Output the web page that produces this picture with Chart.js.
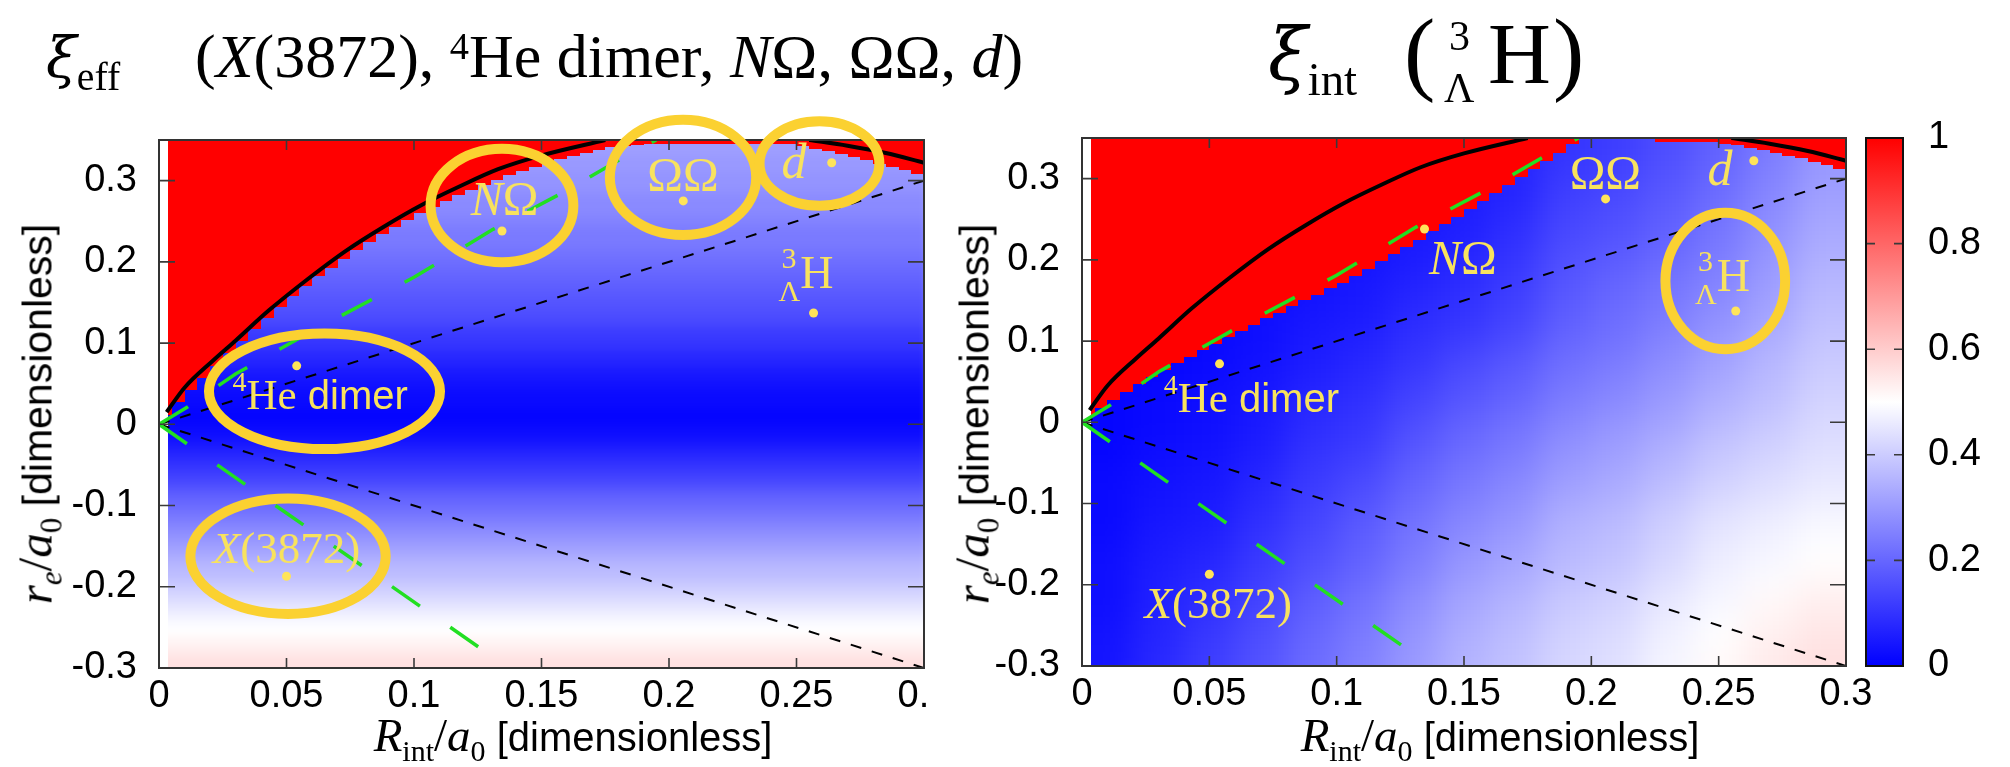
<!DOCTYPE html>
<html><head><meta charset="utf-8">
<script src="https://cdn.jsdelivr.net/npm/chart.js@4.4.0/dist/chart.umd.min.js"></script>
<style>
html,body{margin:0;padding:0;background:#fff;}
#wrap{position:relative;width:2010px;height:767px;overflow:hidden;background:#fff;}
canvas{position:absolute;top:0;}
.t{position:absolute;white-space:nowrap;color:#000;line-height:1;}
.serif{font-family:"Liberation Serif","Times New Roman",serif;}
.greek{font-family:"DejaVu Serif","Liberation Serif",serif;}
.sans{font-family:"Liberation Sans",Arial,sans-serif;}
.it{font-style:italic;}
.sb{font-size:0.64em;position:relative;top:0.32em;}
.sp{font-size:0.62em;position:relative;top:-0.48em;}
</style></head><body>
<div id="wrap">
<canvas id="cL" width="929" height="767" style="left:0;width:929px;height:767px;"></canvas>
<canvas id="cR" width="960" height="767" style="left:940px;width:960px;height:767px;"></canvas>
<canvas id="cB" width="170" height="767" style="left:1840px;width:170px;height:767px;"></canvas>

<div class="t" style="left:46px;top:25px;font-size:62px;"><span class="greek it" style="font-size:56px;">ξ</span><span class="serif sb">eff</span></div>
<div class="t serif" style="left:195px;top:25px;font-size:62px;">(<span class="it">X</span>(3872), <span class="sp">4</span>He dimer, <span class="it">N</span>Ω, ΩΩ, <span class="it">d</span>)</div>

<div class="t" style="left:1268px;top:15px;font-size:78px;"><span class="greek it" style="font-size:72px;">ξ</span><span class="serif sb" style="font-size:0.6em;">int</span></div>
<div class="t serif" style="left:1404px;top:4px;font-size:94px;">(</div>
<div class="t serif" style="left:1449px;top:15px;font-size:42px;">3</div>
<div class="t serif" style="left:1444px;top:67px;font-size:42px;">Λ</div>
<div class="t serif" style="left:1488px;top:10px;font-size:87px;">H</div>
<div class="t serif" style="left:1553px;top:4px;font-size:94px;">)</div>

<div class="t" style="left:573px;top:712px;transform:translateX(-50%);"><span class="serif it" style="font-size:47px;">R</span><span class="serif sb" style="font-size:30px;">int</span><span class="serif" style="font-size:47px;">/</span><span class="serif it" style="font-size:47px;">a</span><span class="serif sb" style="font-size:30px;">0</span><span class="sans" style="font-size:40px;"> [dimensionless]</span></div>
<div class="t" style="left:1500px;top:712px;transform:translateX(-50%);"><span class="serif it" style="font-size:47px;">R</span><span class="serif sb" style="font-size:30px;">int</span><span class="serif" style="font-size:47px;">/</span><span class="serif it" style="font-size:47px;">a</span><span class="serif sb" style="font-size:30px;">0</span><span class="sans" style="font-size:40px;"> [dimensionless]</span></div>

<div class="t" style="left:35px;top:414px;transform:translate(-50%,-50%) rotate(-90deg);"><span class="serif it" style="font-size:49px;">r</span><span class="serif it sb" style="font-size:31px;">e</span><span class="serif" style="font-size:49px;">/</span><span class="serif it" style="font-size:49px;">a</span><span class="serif sb" style="font-size:31px;">0</span><span class="sans" style="font-size:41px;"> [dimensionless]</span></div>
<div class="t" style="left:972px;top:414px;transform:translate(-50%,-50%) rotate(-90deg);"><span class="serif it" style="font-size:49px;">r</span><span class="serif it sb" style="font-size:31px;">e</span><span class="serif" style="font-size:49px;">/</span><span class="serif it" style="font-size:49px;">a</span><span class="serif sb" style="font-size:31px;">0</span><span class="sans" style="font-size:41px;"> [dimensionless]</span></div>
</div>

<script>
// ---------------- data ----------------
const xTickValues = [0, 0.05, 0.1, 0.15, 0.2, 0.25, 0.3];
const yTickValues = [-0.3, -0.2, -0.1, 0, 0.1, 0.2, 0.3];
const cbTickValues = [0, 0.2, 0.4, 0.6, 0.8, 1];

// left panel, xi_eff : value per r_e row (row height 0.01)
const effY = [-0.295,-0.285,-0.275,-0.265,-0.255,-0.245,-0.235,-0.225,-0.215,-0.205,
  -0.195,-0.185,-0.175,-0.165,-0.155,-0.145,-0.135,-0.125,-0.115,-0.105,
  -0.095,-0.085,-0.075,-0.065,-0.055,-0.045,-0.035,-0.025,-0.015,-0.005,
  0.005,0.015,0.025,0.035,0.045,0.055,0.065,0.075,0.085,0.095,
  0.105,0.115,0.125,0.135,0.145,0.155,0.165,0.175,0.185,0.195,
  0.205,0.215,0.225,0.235,0.245,0.255,0.265,0.275,0.285,0.295,
  0.305,0.315,0.325,0.335,0.345];
const effValues = [0.56,0.55,0.53,0.52,0.50,0.49,0.47,0.45,0.43,0.41,
  0.39,0.37,0.36,0.34,0.32,0.30,0.28,0.26,0.24,0.22,
  0.20,0.18,0.15,0.13,0.11,0.09,0.07,0.05,0.03,0.02,
  0.01,0.01,0.02,0.02,0.03,0.04,0.05,0.07,0.08,0.10,
  0.11,0.12,0.14,0.15,0.16,0.17,0.18,0.19,0.20,0.21,
  0.22,0.23,0.24,0.24,0.25,0.26,0.27,0.27,0.28,0.29,
  0.29,0.30,0.30,0.31,0.31];

// right panel, xi_int : columns (R_int centres) x rows (r_e centres)
const intX = [0.01,0.03,0.05,0.07,0.09,0.11,0.13,0.15,0.17,0.19,0.21,0.23,0.25,0.27,0.29];
const intY = [-0.2875,-0.2625,-0.2375,-0.2125,-0.1875,-0.1625,-0.1375,-0.1125,-0.0875,-0.0625,
  -0.0375,-0.0125,0.0125,0.0375,0.0625,0.0875,0.1125,0.1375,0.1625,0.1875,
  0.2125,0.2375,0.2625,0.2875,0.3125,0.3375];
const intValues = [
  [0.04,0.04,0.03,0.03,0.03,0.03,0.02,0.02,0.02,0.02,0.01,0.01,0.01,0.01,0.01,0.01,0.01,0.01,0.01,0.01,0.01,0.01,0.01,0.01,0.01,0.01],
  [0.08,0.07,0.07,0.06,0.06,0.05,0.05,0.04,0.04,0.03,0.03,0.02,0.02,0.02,0.01,0.01,0.01,0.01,0.01,0.01,0.01,0.01,0.01,0.01,0.01,0.01],
  [0.12,0.11,0.10,0.09,0.08,0.07,0.06,0.05,0.05,0.04,0.04,0.03,0.03,0.03,0.02,0.02,0.02,0.02,0.02,0.02,0.02,0.02,0.02,0.02,0.02,0.02],
  [0.16,0.15,0.14,0.13,0.12,0.11,0.10,0.09,0.08,0.07,0.06,0.05,0.05,0.04,0.04,0.03,0.03,0.03,0.02,0.02,0.02,0.02,0.02,0.02,0.02,0.02],
  [0.21,0.20,0.19,0.18,0.16,0.15,0.14,0.13,0.12,0.11,0.10,0.09,0.08,0.07,0.06,0.05,0.05,0.04,0.04,0.03,0.03,0.03,0.03,0.03,0.03,0.03],
  [0.25,0.24,0.23,0.22,0.20,0.19,0.18,0.17,0.15,0.14,0.12,0.11,0.10,0.09,0.08,0.07,0.06,0.05,0.05,0.04,0.04,0.04,0.03,0.03,0.03,0.03],
  [0.30,0.29,0.28,0.27,0.25,0.24,0.23,0.22,0.20,0.19,0.17,0.16,0.14,0.13,0.11,0.10,0.09,0.08,0.07,0.06,0.05,0.05,0.04,0.04,0.04,0.04],
  [0.35,0.34,0.33,0.32,0.30,0.29,0.27,0.26,0.24,0.23,0.21,0.20,0.18,0.16,0.15,0.13,0.11,0.10,0.09,0.08,0.07,0.06,0.06,0.05,0.05,0.05],
  [0.38,0.37,0.36,0.35,0.33,0.32,0.30,0.29,0.27,0.26,0.24,0.23,0.21,0.19,0.18,0.16,0.14,0.13,0.12,0.11,0.10,0.09,0.08,0.07,0.07,0.07],
  [0.42,0.41,0.40,0.39,0.37,0.36,0.35,0.34,0.32,0.30,0.29,0.27,0.25,0.24,0.22,0.21,0.19,0.18,0.17,0.16,0.15,0.14,0.13,0.12,0.11,0.10],
  [0.44,0.43,0.42,0.41,0.39,0.38,0.37,0.36,0.34,0.33,0.31,0.30,0.28,0.26,0.25,0.23,0.22,0.21,0.20,0.19,0.17,0.16,0.15,0.14,0.13,0.12],
  [0.48,0.47,0.46,0.45,0.43,0.42,0.41,0.40,0.38,0.36,0.35,0.33,0.31,0.30,0.28,0.27,0.25,0.24,0.23,0.22,0.20,0.19,0.18,0.17,0.16,0.15],
  [0.51,0.50,0.49,0.48,0.47,0.46,0.45,0.44,0.42,0.40,0.39,0.37,0.35,0.34,0.32,0.31,0.29,0.28,0.26,0.25,0.24,0.23,0.22,0.21,0.20,0.19],
  [0.54,0.53,0.52,0.51,0.49,0.48,0.47,0.46,0.44,0.43,0.41,0.40,0.38,0.37,0.36,0.35,0.33,0.32,0.31,0.30,0.29,0.28,0.27,0.26,0.25,0.24],
  [0.56,0.55,0.54,0.53,0.51,0.50,0.49,0.48,0.46,0.45,0.44,0.43,0.42,0.41,0.40,0.39,0.38,0.37,0.36,0.35,0.34,0.33,0.32,0.31,0.30,0.29]
];

// red (xi = 1) region: lower edge in r_e for each narrow R_int column
const edgeX = [0.0025,0.0075,0.0125,0.0175,0.0225,0.0275,0.0325,0.0375,0.0425,0.0475,
  0.0525,0.0575,0.0625,0.0675,0.0725,0.0775,0.0825,0.0875,0.0925,0.0975,
  0.1025,0.1075,0.1125,0.1175,0.1225,0.1275,0.1325,0.1375,0.1425,0.1475,
  0.1525,0.1575,0.1625,0.1675,0.1725,0.1775,0.1825,0.1875,0.1925,0.1975,
  0.2025,0.2075,0.2125,0.2175,0.2225,0.2275,0.2325,0.2375,0.2425,0.2475,
  0.2525,0.2575,0.2625,0.2675,0.2725,0.2775,0.2825,0.2875,0.2925,0.2975];
const effRedFrom = [0.012,0.028,0.042,0.057,0.072,0.088,0.103,0.117,0.131,0.145,
  0.158,0.170,0.182,0.193,0.204,0.214,0.224,0.234,0.243,0.252,
  0.260,0.268,0.275,0.282,0.289,0.295,0.301,0.307,0.312,0.317,
  0.322,0.326,0.330,0.334,0.338,0.341,0.343,0.344,0.345,0.345,
  0.345,0.345,0.345,0.345,0.345,0.345,0.345,0.345,0.345,0.345,
  0.342,0.339,0.336,0.333,0.329,0.325,0.321,0.317,0.313,0.308];
const intRedFrom = [0.008,0.017,0.027,0.037,0.047,0.056,0.065,0.073,0.081,0.089,
  0.097,0.105,0.113,0.120,0.128,0.135,0.143,0.150,0.157,0.165,
  0.172,0.180,0.189,0.198,0.207,0.216,0.225,0.235,0.244,0.253,
  0.262,0.272,0.282,0.292,0.302,0.312,0.322,0.332,0.342,0.350,
  0.350,0.350,0.350,0.350,0.350,0.345,0.345,0.345,0.345,0.345,
  0.343,0.341,0.338,0.335,0.332,0.328,0.325,0.321,0.317,0.312];

// curves
const solidAX = [0.003,0.01,0.021,0.03,0.043,0.058,0.073,0.088,0.103,0.118,0.133,0.15,0.175];
const solidAY = [0.015,0.045,0.078,0.103,0.14,0.178,0.213,0.243,0.27,0.293,0.314,0.331,0.35];
const solidBX = [0.255,0.27,0.285,0.3];
const solidBY = [0.35,0.343,0.334,0.322];
const dashUpX = [0,0.3], dashUpY = [0,0.3];
const dashDnX = [0,0.3], dashDnY = [0,-0.3];
const greenUpX = [0,0.011,0.03,0.059,0.1,0.131,0.16,0.184,0.195];
const greenUpY = [0,0.021,0.062,0.113,0.181,0.24,0.288,0.332,0.35];
const greenDnX = [0,0.128], greenDnY = [0,-0.28];

// physical systems (points)
const systemNames = ['X(3872)','4He dimer','NΩ','ΩΩ','d','3ΛH'];
const systemR = [0.05,0.054,0.1345,0.2056,0.2638,0.2567];
const systemr = [-0.187,0.072,0.238,0.275,0.322,0.137];

// label centres [left panel] and [right panel]
const labLX = [0.05,0.0632,0.1355,0.2055,0.249,0.2537];
const labLY = [-0.153,0.037,0.275,0.3055,0.321,0.186];
const labRX = [0.0535,0.0665,0.1495,0.2055,0.2505,0.2515];
const labRY = [-0.223,0.031,0.2,0.305,0.31,0.179];

// highlight rings: left panel (X, He, NΩ, ΩΩ, d) and right panel (3ΛH)
const ringLX = [0.0506,0.0649,0.1345,0.2055,0.259];
const ringLY = [-0.1624,0.0406,0.2693,0.304,0.321];
const ringLRx = [0.0383,0.0453,0.028,0.0287,0.0235];
const ringLRy = [0.071,0.0711,0.0698,0.071,0.052];
const ringRX = [0.2526], ringRY = [0.174], ringRRx = [0.0235], ringRRy = [0.084];

// ---------------- drawing ----------------
const SANS = '"Liberation Sans", Arial, sans-serif';
const SERIF = '"Liberation Serif", "Times New Roman", serif';
const FIELD_X0 = 0.0035, XMAX = 0.3, YMIN = -0.3, YMAX = 0.35;
const LABEL_COL = '#F8E25E', DOT_COL = '#FFE45A', RING_COL = '#FBD131';

function colour(v){
  v = Math.max(0, Math.min(1, v));
  let r, g, b;
  if (v < 0.5) { const t = v / 0.5; r = g = Math.round(255 * t); b = 255; }
  else { const t = (v - 0.5) / 0.5; r = 255; g = b = Math.round(255 * (1 - t)); }
  return 'rgb(' + r + ',' + g + ',' + b + ')';
}
function xy(xs, ys){ return xs.map((x, i) => ({x: x, y: ys[i]})); }

// colour map cells drawn through the chart scales; the field layer is softened like pm3d interpolation
function heatPlugin(fieldFill, redFill, blur){
  return { id: 'heat', beforeDatasetsDraw(chart){
    const ctx = chart.ctx, a = chart.chartArea, X = chart.scales.x, Y = chart.scales.y;
    const mk = c2 => (x0, x1, y0, y1, col) => {
      const px0 = Math.round(X.getPixelForValue(x0)), px1 = Math.round(X.getPixelForValue(x1));
      const py0 = Math.round(Y.getPixelForValue(y1)), py1 = Math.round(Y.getPixelForValue(y0));
      if (px1 > px0 && py1 > py0) { c2.fillStyle = col; c2.fillRect(px0, py0, px1 - px0, py1 - py0); }
    };
    const fx0 = Math.round(X.getPixelForValue(FIELD_X0)), fx1 = Math.round(X.getPixelForValue(XMAX));
    const fy0 = Math.round(Y.getPixelForValue(YMAX)), fy1 = Math.round(Y.getPixelForValue(YMIN));
    const w = fx1 - fx0, h = fy1 - fy0, m = 60;
    const off = document.createElement('canvas');
    off.width = chart.width; off.height = chart.height;
    const o = off.getContext('2d');
    fieldFill(mk(o));
    // extend edges so the softening does not fade at the frame
    o.drawImage(off, fx0, fy0, 1, h, fx0 - m, fy0, m, h);
    o.drawImage(off, fx1 - 1, fy0, 1, h, fx1, fy0, m, h);
    o.drawImage(off, fx0 - m, fy0, w + 2 * m, 1, fx0 - m, fy0 - m, w + 2 * m, m);
    o.drawImage(off, fx0 - m, fy1 - 1, w + 2 * m, 1, fx0 - m, fy1, w + 2 * m, m);
    ctx.save();
    ctx.beginPath(); ctx.rect(fx0, fy0, w, h); ctx.clip();
    ctx.filter = 'blur(' + blur + 'px)';
    ctx.drawImage(off, 0, 0);
    ctx.filter = 'none';
    ctx.restore();
    ctx.save(); ctx.beginPath(); ctx.rect(a.left, a.top, a.width, a.height); ctx.clip();
    redFill(mk(ctx));
    ctx.restore();
  }};
}

function richText(ctx, segs, cx, cy, mainSize){
  let w = 0;
  segs.forEach(s => { ctx.font = s.f; s.w = s.noAdv ? 0 : ctx.measureText(s.t).width; w += s.w; });
  let x = cx - w / 2; const base = cy + 0.33 * mainSize;
  ctx.textBaseline = 'alphabetic'; ctx.textAlign = 'left';
  segs.forEach(s => { ctx.font = s.f; ctx.fillText(s.t, x + (s.dx || 0), base + (s.dy || 0)); x += s.w; });
}
const F = (style, size, fam) => (style ? style + ' ' : '') + size + 'px ' + fam;
function labelSegs(name){
  switch (name) {
    case 'X(3872)': return [{t:'X', f:F('italic',45,SERIF)}, {t:'(3872)', f:F('',45,SERIF)}];
    case '4He dimer': return [{t:'4', f:F('',28,SERIF), dy:-18}, {t:'He', f:F('',43,SERIF)}, {t:' dimer', f:F('',40,SANS)}];
    case 'NΩ': return [{t:'N', f:F('italic',48,SERIF)}, {t:'Ω', f:F('',48,SERIF)}];
    case 'ΩΩ': return [{t:'ΩΩ', f:F('',48,SERIF)}];
    case 'd': return [{t:'d', f:F('italic',50,SERIF)}];
    case '3ΛH': return [{t:'3', f:F('',30,SERIF), dy:-20, dx:3, noAdv:true}, {t:'Λ', f:F('',30,SERIF), dy:13}, {t:'H', f:F('',46,SERIF)}];
  }
}

function overlayPlugin(rings, labX, labY){
  return { id: 'overlay', afterDatasetsDraw(chart){
    const ctx = chart.ctx, a = chart.chartArea, X = chart.scales.x, Y = chart.scales.y;
    ctx.save();
    // inside tick marks (mirrored) and frame
    ctx.strokeStyle = '#3a3a3a'; ctx.lineWidth = 1.6; ctx.beginPath();
    xTickValues.forEach(v => { const p = X.getPixelForValue(v);
      ctx.moveTo(p, a.bottom); ctx.lineTo(p, a.bottom - 10); ctx.moveTo(p, a.top); ctx.lineTo(p, a.top + 10); });
    yTickValues.forEach(v => { const p = Y.getPixelForValue(v);
      ctx.moveTo(a.left, p); ctx.lineTo(a.left + 16, p); ctx.moveTo(a.right, p); ctx.lineTo(a.right - 16, p); });
    ctx.stroke();
    ctx.lineWidth = 2; ctx.strokeStyle = '#333'; ctx.strokeRect(a.left, a.top, a.width, a.height);
    // rings
    ctx.strokeStyle = RING_COL; ctx.lineWidth = 10;
    rings.x.forEach((cx, i) => {
      const px = X.getPixelForValue(cx), py = Y.getPixelForValue(rings.y[i]);
      const rx = X.getPixelForValue(cx + rings.rx[i]) - px, ry = py - Y.getPixelForValue(rings.y[i] + rings.ry[i]);
      ctx.beginPath(); ctx.ellipse(px, py, rx, ry, 0, 0, Math.PI * 2); ctx.stroke();
    });
    // labels
    ctx.fillStyle = LABEL_COL;
    systemNames.forEach((n, i) => richText(ctx, labelSegs(n), X.getPixelForValue(labX[i]), Y.getPixelForValue(labY[i]), 44));
    ctx.restore();
  }};
}

function axisOpts(){
  return {
    x: { type: 'linear', min: 0, max: XMAX,
      grid: {display: false, drawTicks: false}, border: {display: false},
      afterBuildTicks: s => { s.ticks = xTickValues.map(v => ({value: v})); },
      ticks: {font: {family: SANS, size: 38}, color: '#000', padding: 6, maxRotation: 0, autoSkip: false, callback: v => String(v)} },
    y: { type: 'linear', min: YMIN, max: YMAX,
      grid: {display: false, drawTicks: false}, border: {display: false},
      afterBuildTicks: s => { s.ticks = yTickValues.map(v => ({value: v})); },
      ticks: {font: {family: SANS, size: 38}, color: '#000', padding: 22, autoSkip: false, callback: v => String(v)} }
  };
}
function curveSets(){
  return [
    {data: xy(systemR, systemr), pointRadius: 4.5, pointBackgroundColor: DOT_COL, pointBorderWidth: 0, showLine: false, order: 0},
    {data: xy(solidAX, solidAY), showLine: true, borderColor: '#000', borderWidth: 4, pointRadius: 0, cubicInterpolationMode: 'monotone', order: 1},
    {data: xy(solidBX, solidBY), showLine: true, borderColor: '#000', borderWidth: 4, pointRadius: 0, cubicInterpolationMode: 'monotone', order: 1},
    {data: xy(greenUpX, greenUpY), showLine: true, borderColor: '#22DF22', borderWidth: 3.5, borderDash: [34, 37], pointRadius: 0, order: 2},
    {data: xy(greenDnX, greenDnY), showLine: true, borderColor: '#22DF22', borderWidth: 3.5, borderDash: [34, 37], pointRadius: 0, order: 2},
    {data: xy(dashUpX, dashUpY), showLine: true, borderColor: '#000', borderWidth: 2, borderDash: [11, 11], pointRadius: 0, order: 3},
    {data: xy(dashDnX, dashDnY), showLine: true, borderColor: '#000', borderWidth: 2, borderDash: [11, 11], pointRadius: 0, order: 3}
  ];
}
const baseOpts = (pad, yW, xH) => {
  const sc = axisOpts();
  sc.y.afterFit = s => { s.width = yW; s.paddingTop = 0; s.paddingBottom = 0; };
  sc.x.afterFit = s => { s.height = xH; s.paddingLeft = 0; s.paddingRight = 0; };
  return { responsive: false, animation: false, devicePixelRatio: 1,
    layout: {padding: pad},
    plugins: {legend: {display: false}, tooltip: {enabled: false}},
    scales: sc };
};

// left: xi_eff
new Chart(document.getElementById('cL'), {
  type: 'scatter',
  data: {datasets: curveSets()},
  options: baseOpts({left: 0, right: 5, top: 140, bottom: 0}, 159, 99),
  plugins: [
    heatPlugin(
      rect => effY.forEach((yc, j) => rect(FIELD_X0, XMAX, yc - 0.005, yc + 0.005, colour(effValues[j]))),
      rect => edgeX.forEach((xc, i) => rect(Math.max(FIELD_X0, xc - 0.0025), xc + 0.0025, effRedFrom[i], YMAX, colour(1))),
      4),
    overlayPlugin({x: ringLX, y: ringLY, rx: ringLRx, ry: ringLRy}, labLX, labLY)
  ]
});

// right: xi_int
new Chart(document.getElementById('cR'), {
  type: 'scatter',
  data: {datasets: curveSets()},
  options: baseOpts({left: 0, right: 54, top: 138, bottom: 0}, 142, 101),
  plugins: [
    heatPlugin(
      rect => intX.forEach((xc, i) => intY.forEach((yc, j) =>
        rect(Math.max(FIELD_X0, xc - 0.01), xc + 0.01, yc - 0.0125, yc + 0.0125, colour(intValues[i][j])))),
      rect => edgeX.forEach((xc, i) => rect(Math.max(FIELD_X0, xc - 0.0025), xc + 0.0025, intRedFrom[i], YMAX, colour(1))),
      16),
    overlayPlugin({x: ringRX, y: ringRY, rx: ringRRx, ry: ringRRy}, labRX, labRY)
  ]
});

// colour bar
new Chart(document.getElementById('cB'), {
  type: 'bar',
  data: {labels: ['xi'], datasets: [{
    data: [[0, 1]], barPercentage: 1, categoryPercentage: 1, borderWidth: 0,
    backgroundColor: c => {
      const a = c.chart.chartArea; if (!a) return '#fff';
      const g = c.chart.ctx.createLinearGradient(0, a.bottom, 0, a.top);
      g.addColorStop(0, colour(0)); g.addColorStop(0.5, colour(0.5)); g.addColorStop(1, colour(1));
      return g;
    }}]},
  options: {responsive: false, animation: false, devicePixelRatio: 1,
    layout: {padding: {left: 26, right: 0, top: 138, bottom: 101}},
    plugins: {legend: {display: false}, tooltip: {enabled: false}},
    scales: {
      x: {display: false},
      y: {position: 'right', min: 0, max: 1, grid: {display: false, drawTicks: false}, border: {display: false},
        afterBuildTicks: s => { s.ticks = cbTickValues.map(v => ({value: v})); },
        afterFit: s => { s.width = 107; s.paddingTop = 0; s.paddingBottom = 0; },
        ticks: {font: {family: SANS, size: 38}, color: '#000', padding: 25, callback: v => String(v)}}
    }},
  plugins: [{id: 'cbframe', afterDatasetsDraw(chart){
    const ctx = chart.ctx, a = chart.chartArea, Y = chart.scales.y;
    ctx.save(); ctx.strokeStyle = '#3a3a3a'; ctx.lineWidth = 1.6; ctx.beginPath();
    cbTickValues.forEach(v => { const p = Y.getPixelForValue(v);
      ctx.moveTo(a.left, p); ctx.lineTo(a.left + 9, p); ctx.moveTo(a.right, p); ctx.lineTo(a.right - 9, p); });
    ctx.stroke(); ctx.lineWidth = 2; ctx.strokeStyle = '#111'; ctx.strokeRect(a.left, a.top, a.width, a.height); ctx.restore();
  }}]
});
</script>
</body></html>
